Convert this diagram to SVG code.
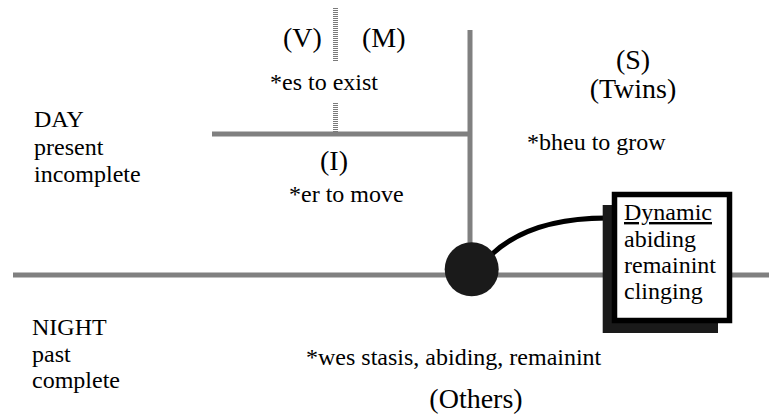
<svg xmlns="http://www.w3.org/2000/svg" width="769" height="419" viewBox="0 0 769 419">
<style>
.t{font-family:'Liberation Serif','Times New Roman',Tinos,'DejaVu Serif',serif;fill:#000}
.b{font-size:24px}
.l{font-size:28px}
.ax{stroke:#808080;stroke-width:5;fill:none}
.h{stroke:#7a7a7a;stroke-width:5;stroke-dasharray:1 1;fill:none}
</style>
<rect width="769" height="419" fill="#fff"/>
<g id="axes">
<line class="ax" x1="13" y1="275" x2="769" y2="275"/>
<line class="ax" x1="470" y1="30" x2="470" y2="275"/>
<line class="ax" x1="212" y1="134" x2="470" y2="134"/>
<line class="h" x1="335.5" y1="8" x2="335.5" y2="62"/>
<line class="h" x1="335.5" y1="103" x2="335.5" y2="132"/>
</g>
<g id="labels">
<text class="t l" x="283" y="47">(V)</text>
<text class="t l" x="362" y="47">(M)</text>
<text class="t b" x="270" y="90">*es to exist</text>
<text class="t l" x="334" y="170" text-anchor="middle">(I)</text>
<text class="t b" x="289" y="202">*er to move</text>
<text class="t l" x="633" y="69" text-anchor="middle">(S)</text>
<text class="t l" x="633" y="98" text-anchor="middle">(Twins)</text>
<text class="t b" x="527" y="150">*bheu to grow</text>
<text class="t b" x="34" y="127">DAY</text>
<text class="t b" x="34" y="155">present</text>
<text class="t b" x="34" y="182">incomplete</text>
<text class="t b" x="32" y="335">NIGHT</text>
<text class="t b" x="32" y="362">past</text>
<text class="t b" x="32" y="388">complete</text>
<text class="t b" x="306" y="365">*wes stasis, abiding, remainint</text>
<text class="t l" x="476" y="408" text-anchor="middle">(Others)</text>
</g>
<g id="connectors">
<path d="M491 255 Q530 218 607 218" stroke="#000" stroke-width="5" fill="none"/>
</g>
<g id="center-node">
<circle cx="471.7" cy="269.3" r="27" fill="#1a1a1a"/>
</g>
<g id="dynamic-box">
<rect x="602.7" y="205" width="115.3" height="128" fill="#1a1a1a"/>
<rect x="614.5" y="194.5" width="115" height="126" fill="#fff" stroke="#000" stroke-width="5.5"/>
<text class="t b" x="624" y="220" text-decoration="underline">Dynamic</text>
<text class="t b" x="624" y="247">abiding</text>
<text class="t b" x="624" y="273">remainint</text>
<text class="t b" x="624" y="299">clinging</text>
</g>
</svg>
